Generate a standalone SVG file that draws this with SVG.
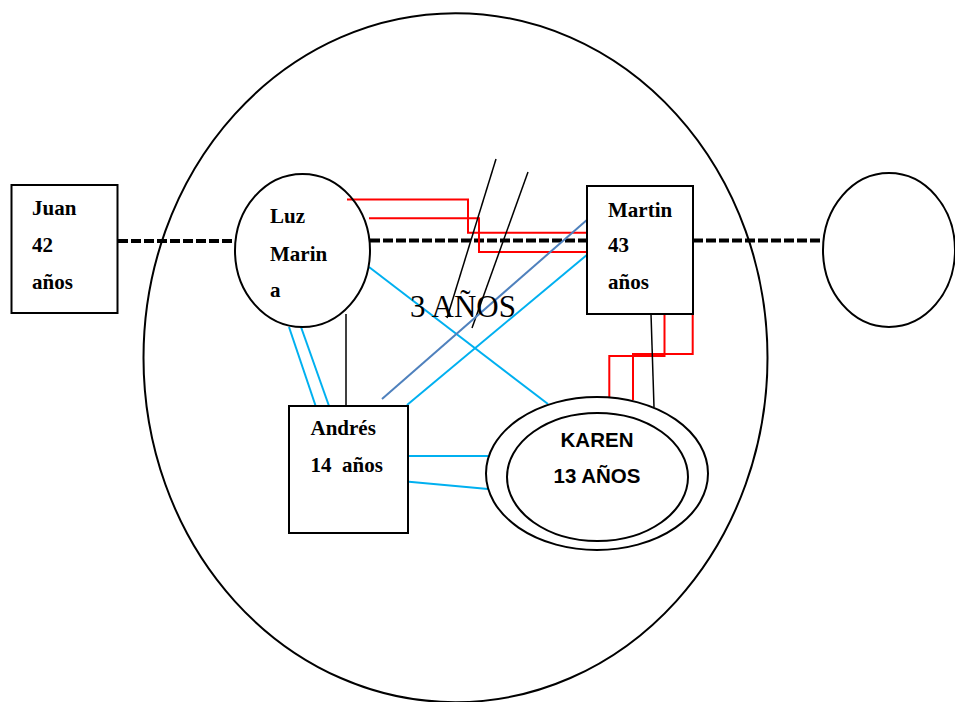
<svg xmlns="http://www.w3.org/2000/svg" width="955" height="702" viewBox="0 0 955 702">
<style>
.shape{fill:none;stroke:#000;stroke-width:2}
.box{fill:#fff;stroke:#000;stroke-width:2}
.dash{stroke:#000;stroke-width:4;stroke-dasharray:10 3;fill:none}
.red{fill:none;stroke:#ff0000;stroke-width:2}
.cyan{stroke:#00b0f0;stroke-width:2;fill:none}
.steel{stroke:#4f81bd;stroke-width:2;fill:none}
.blk{stroke:#000;stroke-width:1.5;fill:none}
.lbl{font-family:"Liberation Serif",serif;font-weight:bold;font-size:21px;fill:#000}
.sans{font-family:"Liberation Sans",Arial,sans-serif;font-weight:bold;font-size:20.5px;fill:#000}
</style>
<rect width="955" height="702" fill="#fff"/>
<g id="household">
<ellipse class="shape" cx="455.5" cy="357.7" rx="312" ry="344.5"/>
</g>
<g id="connectors">
<line class="dash" x1="118" y1="241" x2="236" y2="241"/>
<line class="dash" x1="370" y1="240.5" x2="587" y2="240.5"/>
<line class="dash" x1="693" y1="240.5" x2="823" y2="240.5"/>
<polyline class="red" points="347,199.5 468,199.5 468,232.7 590,232.7"/>
<polyline class="red" points="369,218.3 479,218.3 479,252 588,252"/>
<line class="blk" x1="496" y1="159" x2="447" y2="318"/>
<line class="blk" x1="528" y1="172" x2="472" y2="328"/>
<line class="cyan" x1="369" y1="267" x2="548" y2="404"/>
<line class="cyan" x1="588" y1="254" x2="407" y2="405"/>
<line class="steel" x1="588" y1="219" x2="382" y2="399"/>
<line class="cyan" x1="289" y1="327" x2="317" y2="410"/>
<line class="cyan" x1="301" y1="327" x2="329" y2="406"/>
<line class="blk" x1="346" y1="314" x2="346" y2="405"/>
<line class="cyan" x1="409" y1="456" x2="488" y2="456"/>
<line class="cyan" x1="409" y1="481.7" x2="488" y2="489"/>
<polyline class="red" points="664.5,314 664.5,356 609.3,356 609.3,398"/>
<polyline class="red" points="692.7,314 692.7,354 633,354 633,400"/>
<line class="blk" x1="651" y1="314" x2="654" y2="407"/>
</g>
<g id="label-3anos">
<text x="410" y="317" font-family="Liberation Serif,serif" font-size="31" fill="#000">3 AÑOS</text>
</g>
<g id="juan">
<rect class="box" x="11.5" y="185" width="106" height="128"/>
<text class="lbl" x="32" y="215">Juan</text>
<text class="lbl" x="32" y="252">42</text>
<text class="lbl" x="32" y="289">años</text>
</g>
<g id="luz-marina">
<ellipse class="shape" cx="302.5" cy="250.5" rx="67.5" ry="76.5"/>
<text class="lbl" x="270" y="223">Luz</text>
<text class="lbl" x="270" y="261">Marin</text>
<text class="lbl" x="270" y="297">a</text>
</g>
<g id="martin">
<rect class="box" x="587" y="186" width="106" height="128"/>
<text class="lbl" x="608" y="217">Martin</text>
<text class="lbl" x="608" y="252">43</text>
<text class="lbl" x="608" y="289">años</text>
</g>
<g id="unknown">
<ellipse class="shape" cx="889" cy="250" rx="66" ry="77"/>
</g>
<g id="andres">
<rect class="box" x="289" y="406" width="119" height="127"/>
<text class="lbl" x="310.5" y="435">Andrés</text>
<text class="lbl" x="310.5" y="472" xml:space="preserve">14  años</text>
</g>
<g id="karen">
<ellipse class="shape" cx="597" cy="473.5" rx="111" ry="76.5"/>
<ellipse class="shape" cx="597.5" cy="477" rx="90.5" ry="64"/>
<text class="sans" x="597" y="447" text-anchor="middle">KAREN</text>
<text class="sans" x="597" y="483" text-anchor="middle">13 AÑOS</text>
</g>
</svg>
